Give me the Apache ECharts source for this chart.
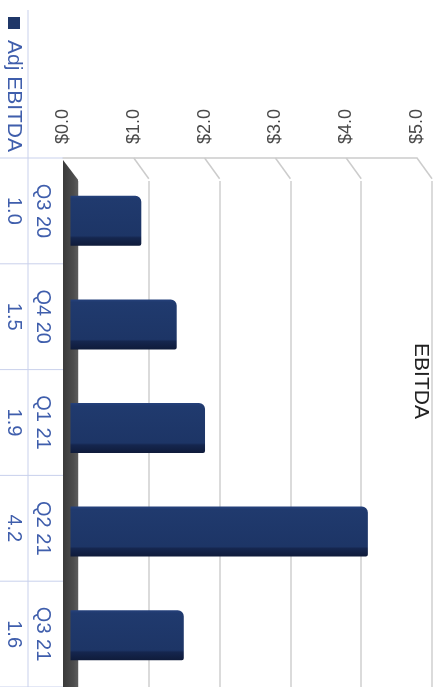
<!DOCTYPE html>
<html>
<head>
<meta charset="utf-8">
<script src="https://cdn.jsdelivr.net/npm/echarts@6/dist/echarts.min.js"></script>
<style>
html,body{margin:0;padding:0;background:#fff;}
#main{width:441px;height:687px;}
</style>
</head>
<body>
<div id="main"></div>
<script>
// ---- data ----
const categories = ['Q3 20', 'Q4 20', 'Q1 21', 'Q2 21', 'Q3 21'];
const adjEbitda = [1.0, 1.5, 1.9, 4.2, 1.6];
const valueTicks = [0, 1, 2, 3, 4, 5];
const seriesName = 'Adj EBITDA';
const titleText = 'EBITDA';

// ---- layout (3D planes: front, middle (bars), back) ----
const FRONT = {left: 63, top: 158};
const MID = {left: 70.5, top: 169};
const BACK = {left: 78, top: 181};
const PW = 354, PH = 535;
const FONT = '"Liberation Sans", Arial, sans-serif';
const TABLE_BLUE = '#3f5eac';
const TABLE_LINE = '#c9d1ec';

const chart = echarts.init(document.getElementById('main'), null, {renderer: 'canvas'});
const vMin = valueTicks[0], vMax = valueTicks[valueTicks.length - 1];

function valAxis(gridIndex, extra) {
  return Object.assign({
    type: 'value', gridIndex: gridIndex, min: vMin, max: vMax, interval: 1,
    axisLine: {show: false}, axisTick: {show: false}, axisLabel: {show: false}, splitLine: {show: false}
  }, extra || {});
}
function catAxis(gridIndex) {
  return {type: 'category', gridIndex: gridIndex, data: categories, inverse: true, show: false};
}

chart.setOption({
  animation: false,
  backgroundColor: '#ffffff',
  grid: [
    {left: MID.left, top: MID.top, width: PW, height: PH},
    {left: FRONT.left, top: FRONT.top, width: PW, height: PH},
    {left: BACK.left, top: BACK.top, width: PW, height: PH}
  ],
  xAxis: [
    valAxis(0),
    valAxis(1, {
      position: 'top',
      axisLine: {show: true, lineStyle: {color: '#cccccc', width: 1.5}},
      axisLabel: {
        show: true, rotate: -90, margin: 14, fontSize: 18, fontFamily: FONT, color: '#4a4a4a',
        formatter: v => '$' + v.toFixed(1)
      }
    }),
    valAxis(2, {splitLine: {show: true, lineStyle: {color: '#cfcfcf', width: 1.5}}})
  ],
  yAxis: [catAxis(0), catAxis(1), catAxis(2)],
  series: [{
    name: seriesName,
    type: 'bar',
    xAxisIndex: 0, yAxisIndex: 0,
    data: adjEbitda,
    barWidth: 50,
    z: 5,
    itemStyle: {
      borderRadius: [0, 6, 2, 0],
      color: {
        type: 'linear', x: 0, y: 0, x2: 0, y2: 1,
        colorStops: [
          {offset: 0, color: '#25417c'},
          {offset: 0.06, color: '#203a6e'},
          {offset: 0.8, color: '#1d3566'},
          {offset: 0.84, color: '#15264e'},
          {offset: 1, color: '#0f1b3a'}
        ]
      }
    }
  }]
});

// ---- decorations positioned through the library's own scales ----
const g = [];
const fx = v => chart.convertToPixel({xAxisIndex: 1}, v);
const bx = v => chart.convertToPixel({xAxisIndex: 2}, v);
const fy = c => chart.convertToPixel({yAxisIndex: 1}, c);
const band = fy(categories[1]) - fy(categories[0]);
const frontTop = fy(categories[0]) - band / 2;
const backTop = chart.convertToPixel({yAxisIndex: 2}, categories[0]) - band / 2;

// diagonals from front top edge to back wall
valueTicks.forEach(v => {
  if (v === vMin) return;
  g.push({type: 'line', z: 1, shape: {x1: fx(v), y1: frontTop, x2: bx(v), y2: backTop},
    style: {stroke: '#cccccc', lineWidth: 1.5}});
});

// floor slab at zero
const x0f = fx(vMin), x0b = bx(vMin);
g.push({type: 'polygon', z: 3,
  shape: {points: [[x0f, frontTop + 2], [x0b, backTop + 1], [x0b, 800], [x0f, 800]]},
  style: {fill: {type: 'linear', x: 0, y: 0, x2: 1, y2: 0,
    colorStops: [{offset: 0, color: '#3a3a3a'}, {offset: 0.7, color: '#4d4d4d'}, {offset: 1, color: '#5c5c5c'}]}}});

// title
g.push({type: 'text', z: 10, x: 421, y: 381, rotation: -Math.PI / 2,
  style: {text: titleText, font: '21px ' + FONT, fill: '#222222', align: 'center', verticalAlign: 'middle'}});

// data table
const colLeft = 0, colMid = 28, colRight = x0f;
g.push({type: 'line', z: 4, shape: {x1: colMid, y1: 10, x2: colMid, y2: 800}, style: {stroke: TABLE_LINE, lineWidth: 1}});
g.push({type: 'line', z: 4, shape: {x1: colLeft, y1: frontTop, x2: colRight, y2: frontTop}, style: {stroke: TABLE_LINE, lineWidth: 1}});
categories.forEach((c, i) => {
  const cy = fy(c);
  const yb = cy + band / 2;
  g.push({type: 'line', z: 4, shape: {x1: colLeft, y1: yb, x2: colRight, y2: yb}, style: {stroke: TABLE_LINE, lineWidth: 1}});
  g.push({type: 'text', z: 10, x: 43, y: cy, rotation: -Math.PI / 2,
    style: {text: c, font: '20px ' + FONT, fill: TABLE_BLUE, align: 'center', verticalAlign: 'middle'}});
  g.push({type: 'text', z: 10, x: 14, y: cy, rotation: -Math.PI / 2,
    style: {text: adjEbitda[i].toFixed(1), font: '20px ' + FONT, fill: TABLE_BLUE, align: 'center', verticalAlign: 'middle'}});
});
// legend key cell
g.push({type: 'rect', z: 10, shape: {x: 8, y: 17, width: 12, height: 12}, style: {fill: '#1f3768'}});
g.push({type: 'text', z: 10, x: 14, y: 96, rotation: -Math.PI / 2,
  style: {text: seriesName, font: '21px ' + FONT, fill: TABLE_BLUE, align: 'center', verticalAlign: 'middle'}});

chart.setOption({graphic: {elements: g}});
</script>
</body>
</html>
